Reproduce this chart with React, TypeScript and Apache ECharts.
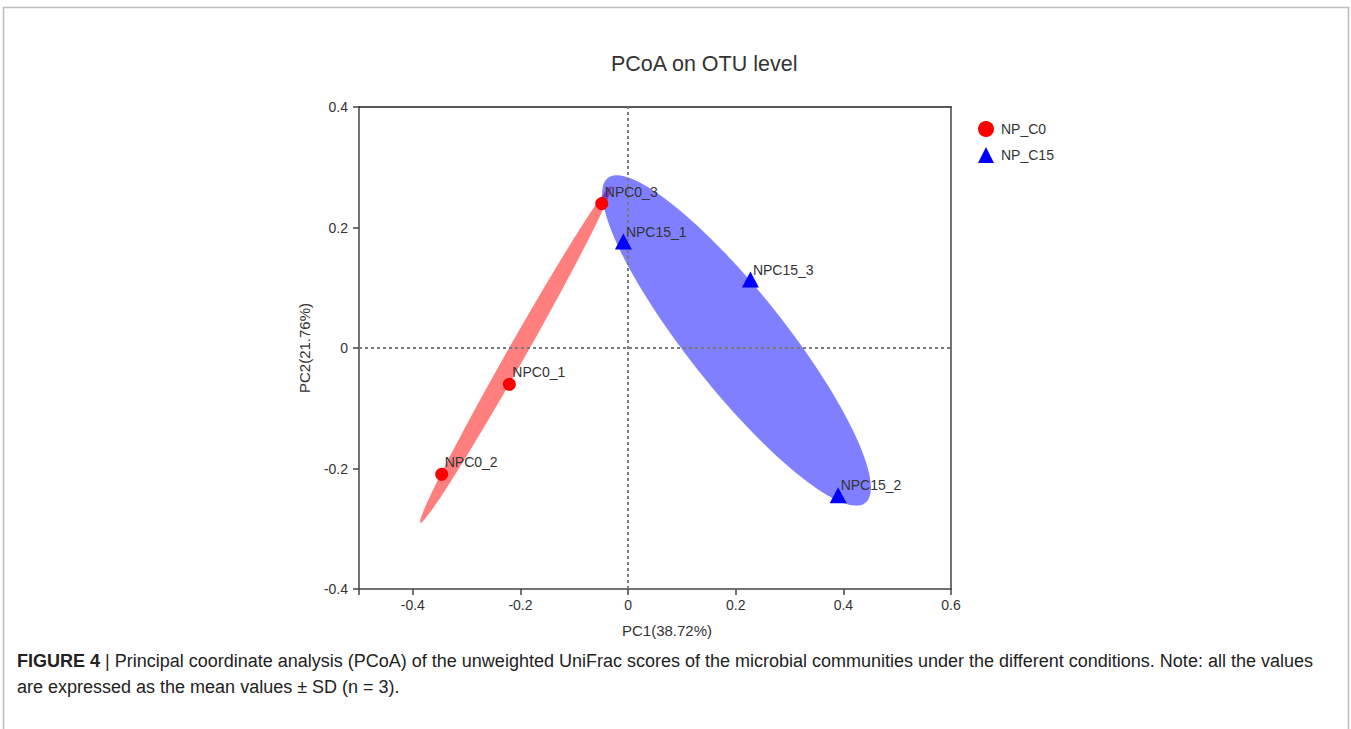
import React, { useEffect, useRef } from "react";
import * as echarts from "echarts";

const titleText = "PCoA on OTU level";
const xAxisName = "PC1(38.72%)";
const yAxisName = "PC2(21.76%)";
const groupNames = ["NP_C0", "NP_C15"];

const c0Names = ["NPC0_1", "NPC0_2", "NPC0_3"];
const c0PC1 = [-0.2206, -0.3463, -0.0489];
const c0PC2 = [-0.0603, -0.2096, 0.2397];

const c15Names = ["NPC15_1", "NPC15_2", "NPC15_3"];
const c15PC1 = [-0.0087, 0.3903, 0.2273];
const c15PC2 = [0.1768, -0.2442, 0.1137];

// confidence ellipses: centre and two conjugate semi-axis vectors (data units)
const ellipseC0Center = [-0.2085, -0.0105];
const ellipseC0Major = [0.1775, 0.2794];
const ellipseC0Minor = [0.0146, -0.0074];
const ellipseC15Center = [0.2015, 0.0125];
const ellipseC15Major = [0.2395, -0.2695];
const ellipseC15Minor = [0.0705, 0.0505];

const xTickValues = [-0.5, -0.4, -0.2, 0, 0.2, 0.4, 0.6];
const xLabelValues = [-0.4, -0.2, 0, 0.2, 0.4, 0.6];

const captionBold = "FIGURE 4";
const captionLine1 =
  " | Principal coordinate analysis (PCoA) of the unweighted UniFrac scores of the microbial communities under the different conditions. Note: all the values";
const captionLine2 = "are expressed as the mean values ± SD (n = 3).";

const FONT = "'Liberation Sans', Arial, Helvetica, sans-serif";

function ellipseRender(center: number[], major: number[], minor: number[], fill: string) {
  return (params: any, api: any) => {
    const pts: number[][] = [];
    const n = 120;
    for (let i = 0; i < n; i++) {
      const t = (i / n) * Math.PI * 2;
      const c = Math.cos(t);
      const s = Math.sin(t);
      pts.push(
        api.coord([
          center[0] + major[0] * c + minor[0] * s,
          center[1] + major[1] * c + minor[1] * s,
        ])
      );
    }
    return {
      type: "polygon",
      shape: { points: pts },
      style: { fill },
    };
  };
}

export default function App() {
  const ref = useRef<HTMLDivElement>(null);
  useEffect(() => {
    if (!ref.current) return;
    const chart = echarts.init(ref.current, null, { renderer: "svg" });
    const axisColor = "#444";
    const labelStyle = { color: "#333", fontSize: 14, fontFamily: FONT };
    const option: any = {
      animation: false,
      backgroundColor: "#fff",
      title: {
        text: titleText,
        left: 606,
        top: 48,
        textStyle: { color: "#333", fontSize: 21.5, fontWeight: "normal", fontFamily: FONT },
      },
      legend: {
        orient: "vertical",
        left: 973,
        top: 116,
        itemWidth: 16,
        itemHeight: 16,
        itemGap: 10,
        data: [
          { name: groupNames[0], icon: "circle" },
          { name: groupNames[1], icon: "triangle" },
        ],
        textStyle: { color: "#333", fontSize: 14, fontFamily: FONT, padding: [0, 0, 0, 2] },
      },
      grid: { left: 359, top: 107, width: 592, height: 482 },
      xAxis: [
        {
          type: "value",
          min: -0.5,
          max: 0.6,
          position: "bottom",
          name: xAxisName,
          nameLocation: "middle",
          nameGap: 34,
          nameTextStyle: { color: "#333", fontSize: 15, fontFamily: FONT, padding: [0, 0, 0, 24] },
          splitLine: { show: false },
          axisLine: { show: true, onZero: false, lineStyle: { color: axisColor, width: 1.5 } },
          axisTick: {
            show: true,
            length: 6,
            lineStyle: { color: axisColor, width: 1.5 },
            customValues: xTickValues,
          },
          axisLabel: {
            ...labelStyle,
            margin: 9,
            customValues: xLabelValues,
            formatter: (v: number) => String(Math.round(v * 10) / 10),
          },
        },
        {
          type: "value",
          min: -0.5,
          max: 0.6,
          position: "top",
          splitLine: { show: false },
          axisLine: { show: true, onZero: false, lineStyle: { color: "#222", width: 1.5 } },
          axisTick: { show: false },
          axisLabel: { show: false },
        },
      ],
      yAxis: [
        {
          type: "value",
          min: -0.4,
          max: 0.4,
          interval: 0.2,
          position: "left",
          name: yAxisName,
          nameLocation: "middle",
          nameGap: 47,
          nameRotate: 90,
          nameTextStyle: { color: "#333", fontSize: 15, fontFamily: FONT },
          splitLine: { show: false },
          axisLine: { show: true, onZero: false, lineStyle: { color: axisColor, width: 1.5 } },
          axisTick: { show: true, length: 6, lineStyle: { color: axisColor, width: 1.5 } },
          axisLabel: {
            ...labelStyle,
            margin: 11,
            formatter: (v: number) => String(Math.round(v * 10) / 10),
          },
        },
        {
          type: "value",
          min: -0.4,
          max: 0.4,
          interval: 0.2,
          position: "right",
          splitLine: { show: false },
          axisLine: { show: true, onZero: false, lineStyle: { color: axisColor, width: 1.5 } },
          axisTick: { show: false },
          axisLabel: { show: false },
        },
      ],
      series: [
        {
          type: "custom",
          name: "ellipse_C0",
          xAxisIndex: 0,
          yAxisIndex: 0,
          z: 1,
          silent: true,
          renderItem: ellipseRender(ellipseC0Center, ellipseC0Major, ellipseC0Minor, "rgba(255,0,0,0.5)"),
          data: [ellipseC0Center],
          markLine: {
            silent: true,
            symbol: "none",
            label: { show: false },
            lineStyle: { color: "#7a7a7a", type: [3, 3], width: 2 },
            data: [{ xAxis: 0 }, { yAxis: 0 }],
          },
        },
        {
          type: "custom",
          name: "ellipse_C15",
          xAxisIndex: 0,
          yAxisIndex: 0,
          z: 2,
          silent: true,
          renderItem: ellipseRender(ellipseC15Center, ellipseC15Major, ellipseC15Minor, "rgba(0,0,255,0.5)"),
          data: [ellipseC15Center],
        },
        {
          type: "scatter",
          name: groupNames[0],
          z: 5,
          symbol: "circle",
          symbolSize: 13,
          itemStyle: { color: "#ff0000", opacity: 1 },
          label: {
            show: true,
            position: [9.5, -5.5],
            align: "left",
            verticalAlign: "middle",
            formatter: (p: any) => c0Names[p.dataIndex],
            color: "#333",
            fontSize: 14,
            fontFamily: FONT,
          },
          data: c0PC1.map((x, i) => [x, c0PC2[i]]),
        },
        {
          type: "scatter",
          name: groupNames[1],
          z: 5,
          symbol: "triangle",
          symbolSize: [17, 16],
          itemStyle: { color: "#0000ff", opacity: 1 },
          label: {
            show: true,
            position: [11, -1.8],
            align: "left",
            verticalAlign: "middle",
            formatter: (p: any) => c15Names[p.dataIndex],
            color: "#333",
            fontSize: 14,
            fontFamily: FONT,
          },
          data: c15PC1.map((x, i) => [x, c15PC2[i]]),
        },
      ],
      graphic: [
        {
          type: "rect",
          silent: true,
          shape: { x: 3.5, y: 7.5, width: 1345, height: 800 },
          style: { fill: "none", stroke: "#bbb", lineWidth: 1.5 },
          z: -10,
        },
        {
          type: "text",
          left: 17,
          top: 652,
          style: {
            text: "{b|" + captionBold + "}" + captionLine1,
            fill: "#222",
            fontSize: 18,
            fontFamily: FONT,
            rich: {
              b: { fontWeight: "bold", fontSize: 18, fill: "#222", fontFamily: FONT },
            },
          },
        },
        {
          type: "text",
          left: 17,
          top: 678,
          style: {
            text: captionLine2,
            fill: "#222",
            fontSize: 18,
            fontFamily: FONT,
          },
        },
      ],
    };
    chart.setOption(option);
    return () => chart.dispose();
  }, []);
  return (
    <div
      ref={ref}
      style={{ position: "absolute", left: 0, top: 0, width: 1351, height: 729 }}
    />
  );
}
